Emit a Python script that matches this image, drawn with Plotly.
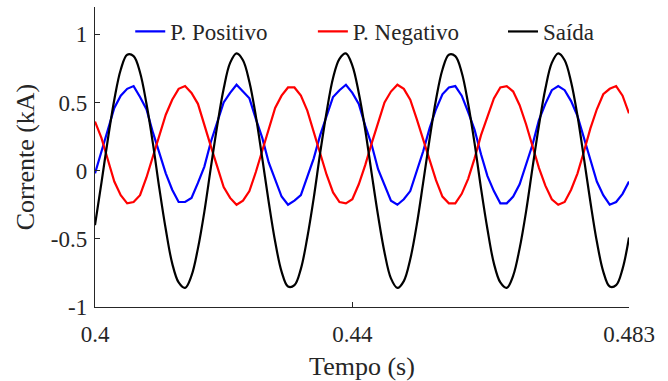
import plotly.graph_objects as go

t_start = 0.4
t_step = 0.001

positivo = [-0.02, 0.15, 0.30, 0.46, 0.55, 0.60, 0.62, 0.54, 0.45, 0.28,
            0.13, -0.02, -0.14, -0.23, -0.23, -0.20, -0.09, 0.03, 0.21, 0.35,
            0.50, 0.57, 0.63, 0.58, 0.53, 0.38, 0.24, 0.06, -0.06, -0.19,
            -0.25, -0.22, -0.18, -0.05, 0.09, 0.26, 0.40, 0.54, 0.59, 0.63,
            0.57, 0.49, 0.33, 0.19, 0.01, -0.11, -0.22, -0.25, -0.21, -0.15,
            -0.01, 0.14, 0.31, 0.45, 0.56, 0.61, 0.62, 0.55, 0.43, 0.30,
            0.12, -0.04, -0.15, -0.24, -0.24, -0.19, -0.10, 0.04, 0.19, 0.37,
            0.49, 0.59, 0.62, 0.59, 0.51, 0.40, 0.23, 0.08, -0.08, -0.18,
            -0.25, -0.23, -0.17, -0.08]

negativo = [0.36, 0.24, 0.08, -0.08, -0.18, -0.24, -0.23, -0.18, -0.05, 0.10,
            0.25, 0.41, 0.52, 0.60, 0.62, 0.57, 0.49, 0.33, 0.18, 0.03,
            -0.12, -0.20, -0.25, -0.22, -0.15, -0.01, 0.15, 0.30, 0.46, 0.55,
            0.61, 0.61, 0.55, 0.44, 0.28, 0.13, -0.03, -0.16, -0.23, -0.24,
            -0.21, -0.10, 0.04, 0.20, 0.35, 0.50, 0.58, 0.63, 0.60, 0.52,
            0.38, 0.23, 0.07, -0.07, -0.19, -0.24, -0.24, -0.17, -0.06, 0.09,
            0.26, 0.40, 0.53, 0.61, 0.62, 0.58, 0.48, 0.34, 0.18, 0.02,
            -0.11, -0.21, -0.25, -0.23, -0.14, -0.02, 0.14, 0.31, 0.45, 0.56,
            0.60, 0.62, 0.55, 0.42]

saida = [-0.40, -0.09, 0.23, 0.52, 0.74, 0.85, 0.84, 0.72, 0.49, 0.20,
         -0.13, -0.43, -0.68, -0.82, -0.86, -0.77, -0.57, -0.30, 0.02, 0.33,
         0.60, 0.79, 0.86, 0.81, 0.65, 0.40, 0.09, -0.23, -0.52, -0.74,
         -0.85, -0.84, -0.72, -0.49, -0.20, 0.13, 0.43, 0.68, 0.82, 0.86,
         0.77, 0.57, 0.30, -0.02, -0.33, -0.60, -0.79, -0.86, -0.81, -0.65,
         -0.40, -0.09, 0.23, 0.52, 0.74, 0.85, 0.84, 0.72, 0.49, 0.20,
         -0.13, -0.43, -0.68, -0.82, -0.86, -0.77, -0.57, -0.30, 0.02, 0.33,
         0.60, 0.79, 0.86, 0.81, 0.65, 0.40, 0.09, -0.23, -0.52, -0.74,
         -0.85, -0.84, -0.72, -0.49]

series_names = ["P. Positivo", "P. Negativo", "Saída"]
x_ticks = [0.4, 0.44, 0.483]
x_ticklabels = ["0.4", "0.44", "0.483"]
y_ticks = [-1, -0.5, 0, 0.5, 1]
y_ticklabels = ["-1", "-0.5", "0", "0.5", "1"]

t = [round(t_start + i * t_step, 4) for i in range(len(saida))]

fig = go.Figure()
fig.add_trace(go.Scatter(x=t, y=positivo, mode="lines", name=series_names[0],
                         line=dict(color="#0000FF", width=2.2), legend="legend"))
fig.add_trace(go.Scatter(x=t, y=negativo, mode="lines", name=series_names[1],
                         line=dict(color="#FF0000", width=2.2), legend="legend2"))
fig.add_trace(go.Scatter(x=t, y=saida, mode="lines", name=series_names[2],
                         line=dict(color="#000000", width=2.2, shape="spline", smoothing=1.0),
                         legend="legend3"))

font_family = "Liberation Serif, Times New Roman, serif"
text_color = "#262626"
tick_font = dict(family=font_family, size=23, color=text_color)


def legend_style(xpos):
    return dict(orientation="h", x=xpos, y=0.99, xanchor="left", yanchor="top",
                bgcolor="rgba(0,0,0,0)",
                font=dict(size=23, family=font_family, color=text_color))


fig.update_layout(
    width=668, height=381,
    margin=dict(l=95, r=39, t=7, b=74, autoexpand=False),
    paper_bgcolor="white", plot_bgcolor="white",
    font=dict(family=font_family, size=23, color=text_color),
    showlegend=True,
    legend=legend_style(0.066),
    legend2=legend_style(0.408),
    legend3=legend_style(0.764),
)
fig.update_xaxes(range=[0.4, 0.483], tickvals=x_ticks, ticktext=x_ticklabels,
                 tickfont=tick_font, automargin=False,
                 showgrid=False, zeroline=False, showline=True, linecolor=text_color,
                 linewidth=1.3, ticks="inside", ticklen=5, tickcolor=text_color,
                 tickwidth=1.3, ticklabelstandoff=6,
                 title=dict(text="Tempo (s)", font=dict(size=26, family=font_family, color=text_color), standoff=14))
fig.update_yaxes(range=[-1, 1.2], tickvals=y_ticks, ticktext=y_ticklabels,
                 tickfont=tick_font, automargin=False,
                 showgrid=False, zeroline=False, showline=True, linecolor=text_color,
                 linewidth=1.3, ticks="inside", ticklen=5, tickcolor=text_color,
                 tickwidth=1.3, ticklabelstandoff=2,
                 title=dict(text="Corrente (kA)", font=dict(size=26, family=font_family, color=text_color), standoff=8))

fig.write_html("out.html")
